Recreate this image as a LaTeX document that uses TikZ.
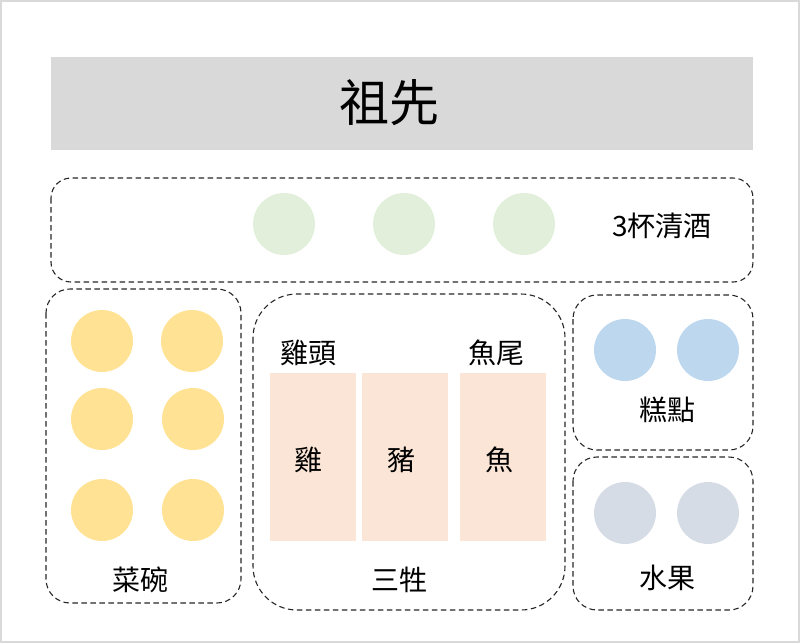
\documentclass[tikz,border=0pt]{standalone}
\usepackage{fontspec}
\setmainfont{Noto Sans CJK TC}

\begin{document}
\begin{tikzpicture}[x=1pt, y=-1pt,
    group/.style={draw=black!85, line width=1.1pt, dash pattern=on 5.5pt off 3.5pt, rounded corners=#1},
    group/.default=24pt,
    dish/.style={circle, minimum size=62pt, inner sep=0pt, fill=#1},
    meat/.style={fill=meatpink, minimum width=86pt, minimum height=168pt, inner sep=0pt},
    label/.style={font=\fontsize{28}{32}\selectfont, inner sep=0pt}]
    \definecolor{titlegray}{HTML}{D9D9D9}
    \definecolor{winegreen}{HTML}{E2EFDA}
    \definecolor{bowlyellow}{HTML}{FFE293}
    \definecolor{cakeblue}{HTML}{BDD7EE}
    \definecolor{fruitgray}{HTML}{D6DCE5}
    \definecolor{meatpink}{HTML}{FBE5D6}
    \useasboundingbox (0,0) rectangle (800,643);
    \draw[titlegray, line width=2pt] (1,1) rectangle (799,642);
    % title bar
    \fill[titlegray] (51,57) rectangle (753,150);
    \node[inner sep=0pt, font=\fontsize{50}{56}\selectfont] (ancestor) at (389,103) {祖先};
    % groups
    \draw[group=20pt] (51,178) rectangle (753,282);
    \draw[group] (46,289) rectangle (241,603);
    \draw[group=44pt] (253,294) rectangle (565,610);
    \draw[group] (573,295) rectangle (753,450);
    \draw[group] (573,457) rectangle (753,610);
    % wine
    \node[dish=winegreen] (wine1) at (284,224) {};
    \node[dish=winegreen] (wine2) at (404,224) {};
    \node[dish=winegreen] (wine3) at (524,224) {};
    \node[label] (wine) at (662,226) {3杯清酒};
    % bowls
    \node[dish=bowlyellow] (bowl1) at (102,341) {};
    \node[dish=bowlyellow] (bowl2) at (192,341) {};
    \node[dish=bowlyellow] (bowl3) at (102,419) {};
    \node[dish=bowlyellow] (bowl4) at (193,419) {};
    \node[dish=bowlyellow] (bowl5) at (102,510) {};
    \node[dish=bowlyellow] (bowl6) at (193,510) {};
    \node[label] (bowl) at (140,580) {菜碗};
    % three sacrifices
    \node[meat] (chicken) at (312.5,457) {};
    \node[meat] (pork) at (405,457) {};
    \node[meat] (fish) at (503,457) {};
    \node[label] (chickenname) at (308,460) {雞};
    \node[label] (porkname) at (401,460) {豬};
    \node[label] (fishname) at (499,460) {魚};
    \node[label] (head) at (308,353) {雞頭};
    \node[label] (tail) at (496,353) {魚尾};
    \node[label] (meats) at (399,580) {三牲};
    % cakes
    \node[dish=cakeblue] (cake1) at (625,350) {};
    \node[dish=cakeblue] (cake2) at (708,350) {};
    \node[label] (cake) at (667,410) {糕點};
    % fruit
    \node[dish=fruitgray] (fruit1) at (625,513) {};
    \node[dish=fruitgray] (fruit2) at (708,513) {};
    \node[label] (fruit) at (667,578) {水果};
\end{tikzpicture}
\end{document}
